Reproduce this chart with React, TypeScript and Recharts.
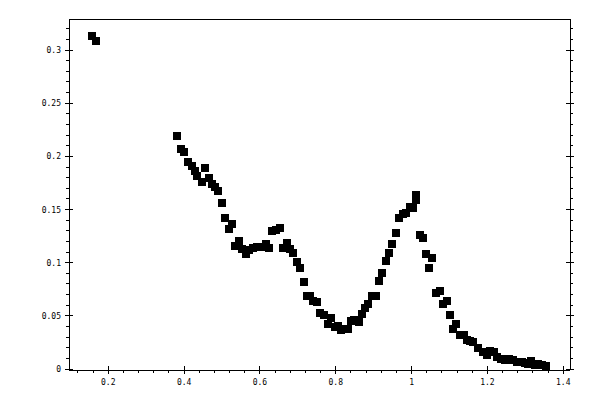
import { Scatter, ScatterChart, XAxis, YAxis } from "recharts";

const xValues = [
  0.158, 0.168, 0.382, 0.393, 0.4, 0.411, 0.42, 0.428, 0.435, 0.446, 0.456, 0.465, 0.474, 0.481,
  0.49, 0.5, 0.509, 0.518, 0.526, 0.535, 0.544, 0.553, 0.562, 0.571, 0.582, 0.592, 0.604, 0.615,
  0.624, 0.633, 0.643, 0.654, 0.661, 0.671, 0.68, 0.688, 0.697, 0.706, 0.716, 0.724, 0.733, 0.741,
  0.75, 0.759, 0.768, 0.779, 0.788, 0.797, 0.805, 0.814, 0.825, 0.833, 0.839, 0.849, 0.86, 0.869,
  0.878, 0.886, 0.895, 0.905, 0.913, 0.922, 0.933, 0.94, 0.948, 0.959, 0.966, 0.976, 0.985, 0.997,
  1.004, 1.011, 1.012, 1.022, 1.029, 1.038, 1.047, 1.054, 1.065, 1.075, 1.082, 1.092, 1.101, 1.11,
  1.118, 1.127, 1.137, 1.146, 1.155, 1.163, 1.176, 1.187, 1.198, 1.207, 1.218, 1.226, 1.237, 1.247,
  1.257, 1.268, 1.279, 1.29, 1.299, 1.308, 1.316, 1.326, 1.334, 1.343, 1.354,
];
const yValues = [
  0.313, 0.3085, 0.219, 0.207, 0.204, 0.195, 0.191, 0.186, 0.182, 0.176, 0.189, 0.1795, 0.174,
  0.171, 0.167, 0.156, 0.1425, 0.132, 0.136, 0.116, 0.12, 0.113, 0.1085, 0.112, 0.114, 0.115,
  0.115, 0.118, 0.114, 0.13, 0.131, 0.133, 0.114, 0.119, 0.113, 0.1087, 0.1003, 0.0953, 0.082,
  0.069, 0.0685, 0.0638, 0.0628, 0.0528, 0.0512, 0.0424, 0.048, 0.0393, 0.0402, 0.0364, 0.038,
  0.038, 0.0456, 0.0465, 0.0443, 0.0519, 0.0575, 0.0616, 0.069, 0.069, 0.0827, 0.0906, 0.1015,
  0.1094, 0.118, 0.1283, 0.1425, 0.1456, 0.147, 0.152, 0.151, 0.159, 0.1635, 0.1258, 0.1236,
  0.1078, 0.0953, 0.1047, 0.0717, 0.0732, 0.0607, 0.0644, 0.0512, 0.0377, 0.0427, 0.0324, 0.0317,
  0.0276, 0.0267, 0.0255, 0.0198, 0.0157, 0.0135, 0.0173, 0.0157, 0.011, 0.0097, 0.0088, 0.0094,
  0.0081, 0.0066, 0.0062, 0.0057, 0.0047, 0.0078, 0.0041, 0.0047, 0.0041, 0.0025,
];

const xMajor = [0.2, 0.4, 0.6, 0.8, 1, 1.2, 1.4];
const xMinor = [
  0.12, 0.16, 0.24, 0.28, 0.32, 0.36, 0.44, 0.48, 0.52, 0.56, 0.64, 0.68, 0.72, 0.76, 0.84, 0.88,
  0.92, 0.96, 1.04, 1.08, 1.12, 1.16, 1.24, 1.28, 1.32, 1.36,
];
const yMajor = [0, 0.05, 0.1, 0.15, 0.2, 0.25, 0.3];
const yMinor = [
  0.01, 0.02, 0.03, 0.04, 0.06, 0.07, 0.08, 0.09, 0.11, 0.12, 0.13, 0.14, 0.16, 0.17, 0.18, 0.19,
  0.21, 0.22, 0.23, 0.24, 0.26, 0.27, 0.28, 0.29, 0.31, 0.32,
];

const xDomain = [0.0964, 1.4177];
const yDomain = [-0.0009, 0.3292];

const data = xValues.map((x, i) => ({ x, y: yValues[i] }));
const xTicks = [...xMajor, ...xMinor].sort((a, b) => a - b);
const yTicks = [...yMajor, ...yMinor].sort((a, b) => a - b);

const FONT = "'DejaVu Sans Mono', monospace";
const AXIS_LINE = { stroke: "#000", shapeRendering: "crispEdges" };
const isMajor = (list: number[], v: number) => list.some((m) => Math.abs(m - v) < 1e-6);

function makeTick(side: "bottom" | "top" | "left" | "right") {
  return (props: any) => {
    const { x, y, payload } = props;
    const v = payload.value;
    const horizontal = side === "bottom" || side === "top";
    const major = isMajor(horizontal ? xMajor : yMajor, v);
    const out = side === "bottom" || side === "right" ? 1 : -1;
    const len = major ? 4 : 3;
    const inner = major ? 4 : 0;
    const line = horizontal ? (
      <line
        x1={x}
        x2={x}
        y1={y - out * inner}
        y2={y + out * len}
        stroke="#000"
        shapeRendering="crispEdges"
      />
    ) : (
      <line
        y1={y}
        y2={y}
        x1={x - out * inner}
        x2={x + out * len}
        stroke="#000"
        shapeRendering="crispEdges"
      />
    );
    let label = null;
    if (major && side === "bottom") {
      label = (
        <text x={x} y={y + 15} textAnchor="middle" fontSize={8} fontFamily={FONT} fill="#000">
          {String(v)}
        </text>
      );
    } else if (major && side === "left") {
      label = (
        <text x={x - 8} y={y + 3} textAnchor="end" fontSize={8} fontFamily={FONT} fill="#000">
          {String(v)}
        </text>
      );
    }
    return (
      <g>
        {line}
        {label}
      </g>
    );
  };
}

const square = (p: any) => (
  <rect
    x={p.cx - 4}
    y={p.cy - 4}
    width={8}
    height={8}
    fill="#000"
    shapeRendering="crispEdges"
  />
);

export default function App() {
  return (
    <div style={{ position: "absolute", left: 0, top: 0, background: "#fff" }}>
      <ScatterChart width={600} height={400} margin={{ top: 0, right: 0, bottom: 0, left: 0 }}>
        <XAxis
          xAxisId="bottom"
          dataKey="x"
          type="number"
          orientation="bottom"
          domain={xDomain}
          allowDataOverflow
          ticks={xTicks}
          interval={0}
          height={30}
          tickSize={0}
          tickMargin={0}
          tickLine={false}
          axisLine={AXIS_LINE}
          tick={makeTick("bottom")}
        />
        <XAxis
          xAxisId="top"
          type="number"
          orientation="top"
          domain={xDomain}
          allowDataOverflow
          ticks={xTicks}
          interval={0}
          height={19}
          tickSize={0}
          tickMargin={0}
          tickLine={false}
          axisLine={AXIS_LINE}
          tick={makeTick("top")}
        />
        <YAxis
          yAxisId="left"
          dataKey="y"
          type="number"
          orientation="left"
          domain={yDomain}
          allowDataOverflow
          ticks={yTicks}
          interval={0}
          width={69}
          tickSize={0}
          tickMargin={0}
          tickLine={false}
          axisLine={AXIS_LINE}
          tick={makeTick("left")}
        />
        <YAxis
          yAxisId="right"
          type="number"
          orientation="right"
          domain={yDomain}
          allowDataOverflow
          ticks={yTicks}
          interval={0}
          width={30}
          tickSize={0}
          tickMargin={0}
          tickLine={false}
          axisLine={AXIS_LINE}
          tick={makeTick("right")}
        />
        <Scatter
          data={data}
          xAxisId="bottom"
          yAxisId="left"
          shape={square}
          isAnimationActive={false}
        />
      </ScatterChart>
    </div>
  );
}
